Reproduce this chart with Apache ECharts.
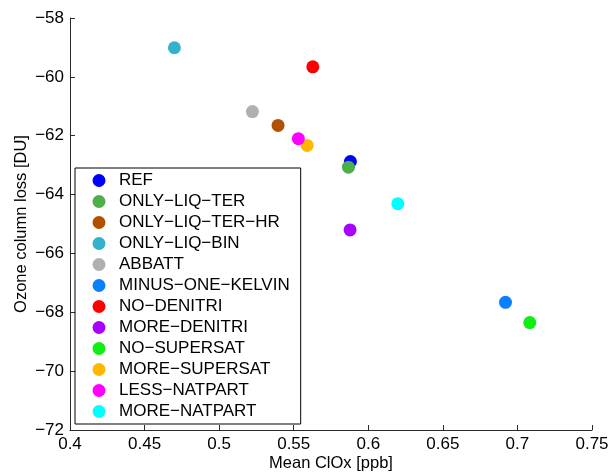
<!DOCTYPE html>
<html>
<head>
<meta charset="utf-8">
<script src="https://cdn.jsdelivr.net/npm/echarts@6/dist/echarts.min.js"></script>
<style>html,body{margin:0;padding:0;background:#fff}#c{width:611px;height:473px}</style>
</head>
<body>
<div id="c"></div>
<script>
const names = ['REF','ONLY−LIQ−TER','ONLY−LIQ−TER−HR','ONLY−LIQ−BIN','ABBATT','MINUS−ONE−KELVIN','NO−DENITRI','MORE−DENITRI','NO−SUPERSAT','MORE−SUPERSAT','LESS−NATPART','MORE−NATPART'];
const meanClOx = [0.588, 0.5867, 0.5395, 0.470, 0.5223, 0.692, 0.5628, 0.5878, 0.7083, 0.559, 0.5531, 0.6198];
const ozoneLoss = [-62.88, -63.07, -61.65, -59.01, -61.18, -67.66, -59.66, -65.20, -68.35, -62.33, -62.10, -64.31];
const colors = ['#0000ff','#4daf4a','#b35000','#33b2cc','#b0b0b0','#0a80ff','#ff0000','#aa00ff','#11ee11','#ffb800','#ff00ff','#00ffff'];
const xTicks = {min: 0.4, max: 0.75, interval: 0.05};
const yTicks = {min: -72, max: -58, interval: 2};

const font = 'Liberation Sans, Arial, Helvetica, sans-serif';
const chart = echarts.init(document.getElementById('c'), null, {renderer: 'canvas'});
const series = names.map((n, i) => ({
  name: n,
  type: 'scatter',
  symbol: 'circle',
  symbolSize: 13,
  itemStyle: {color: colors[i], opacity: 1},
  data: [[meanClOx[i], ozoneLoss[i]]],
  emphasis: {disabled: true},
  animation: false
}));
chart.setOption({
  animation: false,
  grid: {left: 70, right: 19, top: 18, bottom: 43, outerBoundsMode: 'none', containLabel: false},
  xAxis: {
    type: 'value', min: xTicks.min, max: xTicks.max, interval: xTicks.interval,
    name: 'Mean ClOx [ppb]', nameLocation: 'middle', nameGap: 25, nameMoveOverlap: false,
    nameTextStyle: {fontFamily: font, fontSize: 16.5, color: '#000'},
    axisLine: {show: true, onZero: false, lineStyle: {color: '#2a2a2a', width: 1}},
    axisTick: {show: true, inside: true, length: 5, lineStyle: {color: '#2a2a2a'}},
    axisLabel: {fontFamily: font, fontSize: 17, color: '#000', margin: 6,
      formatter: v => String(+v.toFixed(2))},
    splitLine: {show: false}
  },
  yAxis: {
    type: 'value', min: yTicks.min, max: yTicks.max, interval: yTicks.interval,
    name: 'Ozone column loss [DU]', nameLocation: 'middle', nameGap: 40, nameMoveOverlap: false,
    nameTextStyle: {fontFamily: font, fontSize: 16.5, color: '#000'},
    axisLine: {show: true, onZero: false, lineStyle: {color: '#2a2a2a', width: 1}},
    axisTick: {show: true, inside: true, length: 5, lineStyle: {color: '#2a2a2a'}},
    axisLabel: {fontFamily: font, fontSize: 17, color: '#000', margin: 6,
      formatter: v => String(v).replace('-', '−')},
    splitLine: {show: false}
  },
  legend: {
    orient: 'vertical', left: 75, top: 168,
    itemWidth: 30, itemHeight: 13, itemGap: 4,
    padding: [4, 11, 4, 17.5],
    borderColor: '#000', borderWidth: 1, backgroundColor: '#fff',
    icon: 'circle',
    textStyle: {fontFamily: font, fontSize: 17, lineHeight: 17, color: '#000'},
    selectedMode: false,
    data: names
  },
  series: series
});
</script>
</body>
</html>
